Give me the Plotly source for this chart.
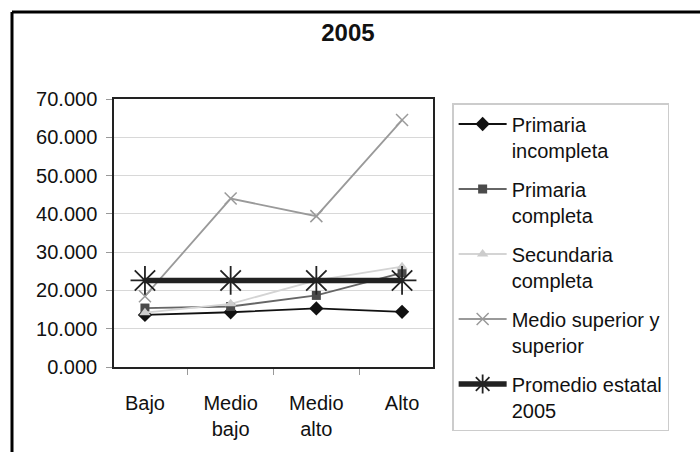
import plotly.graph_objects as go

categories = ["Bajo", "Medio<br>bajo", "Medio<br>alto", "Alto"]
primaria_incompleta = [13.6, 14.3, 15.3, 14.4]
primaria_completa = [15.4, 15.8, 18.7, 24.6]
secundaria_completa = [14.2, 16.5, 22.6, 26.2]
medio_superior = [18.5, 44.0, 39.4, 64.5]
promedio_estatal = [22.6, 22.6, 22.6, 22.6]
y_ticks = [0, 10, 20, 30, 40, 50, 60, 70]

FONT = "Liberation Sans, Arial, sans-serif"

fig = go.Figure()
fig.add_trace(go.Scatter(
    x=categories, y=primaria_incompleta, name="Primaria<br>incompleta",
    legendgroup="g1",
    mode="lines+markers", line=dict(color="#111111", width=1.8),
    marker=dict(symbol="diamond", size=11, color="#111111")))
fig.add_trace(go.Scatter(
    x=categories, y=primaria_completa, name="Primaria<br>completa",
    legendgroup="g2",
    mode="lines+markers", line=dict(color="#666666", width=1.8),
    marker=dict(symbol="square", size=9, color="#4a4a4a")))
fig.add_trace(go.Scatter(
    x=categories, y=secundaria_completa, name="Secundaria<br>completa",
    legendgroup="g3",
    mode="lines+markers", line=dict(color="#d4d4d4", width=1.8),
    marker=dict(symbol="triangle-up", size=10, color="#cccccc")))
fig.add_trace(go.Scatter(
    x=categories, y=medio_superior, name="Medio superior y<br>superior",
    legendgroup="g4",
    mode="lines+markers", line=dict(color="#9a9a9a", width=1.8),
    marker=dict(symbol="x-thin-open", size=12, color="#9a9a9a",
                line=dict(color="#9a9a9a", width=1.5))))
fig.add_trace(go.Scatter(
    x=categories, y=promedio_estatal, name="Promedio estatal<br>2005",
    legendgroup="g5",
    mode="lines+markers", line=dict(color="#222222", width=5.5),
    marker=dict(symbol="asterisk-open", size=24, color="#222222",
                line=dict(color="#222222", width=1.8))))

fig.update_layout(
    width=700, height=452,
    margin=dict(l=114, r=267, t=99, b=85),
    paper_bgcolor="white", plot_bgcolor="white",
    font=dict(family=FONT, size=20, color="#111111"),
    title=dict(text="<b>2005</b>", x=0.497, xref="container", xanchor="center",
               y=1 - 33 / 452, yref="container", yanchor="middle",
               font=dict(family="Liberation Sans Narrow, Arial Narrow, Liberation Sans, sans-serif",
                         size=24, color="#111111")),
    showlegend=True,
    legend=dict(x=1.06, xanchor="left", y=0.985, yanchor="top",
                bordercolor="#cccccc", borderwidth=1.5, bgcolor="white",
                font=dict(family=FONT, size=20, color="#111111"),
                valign="top", tracegroupgap=10, itemwidth=48, maxheight=360),
    xaxis=dict(showgrid=False, tickson="boundaries", ticks="outside", ticklen=6,
               tickcolor="#999999", showline=True, linecolor="#222222", linewidth=1.5,
               mirror=True, tickfont=dict(size=20), ticklabelstandoff=17),
    yaxis=dict(range=[0, 70], tickvals=y_ticks, tickformat=".3f",
               showgrid=True, gridcolor="#d8d8d8", gridwidth=1,
               ticks="outside", ticklen=6, tickcolor="#999999",
               showline=True, linecolor="#222222", linewidth=1.5, mirror=True,
               zeroline=False, tickfont=dict(size=20), ticklabelstandoff=5),
)

# outer chart frame (left and top edges visible)
fig.add_shape(type="line", xref="paper", yref="paper",
              x0=(12 - 114) / 319, x1=(12 - 114) / 319, y0=-0.4, y1=(367 - 12) / 268,
              line=dict(color="black", width=3))
fig.add_shape(type="line", xref="paper", yref="paper",
              x0=(12 - 114) / 319, x1=1.9, y0=(367 - 12) / 268, y1=(367 - 12) / 268,
              line=dict(color="black", width=3))

fig.write_html("out.html", config={"displayModeBar": False},
               post_script="document.body.style.margin='0';document.body.style.overflow='hidden';")
